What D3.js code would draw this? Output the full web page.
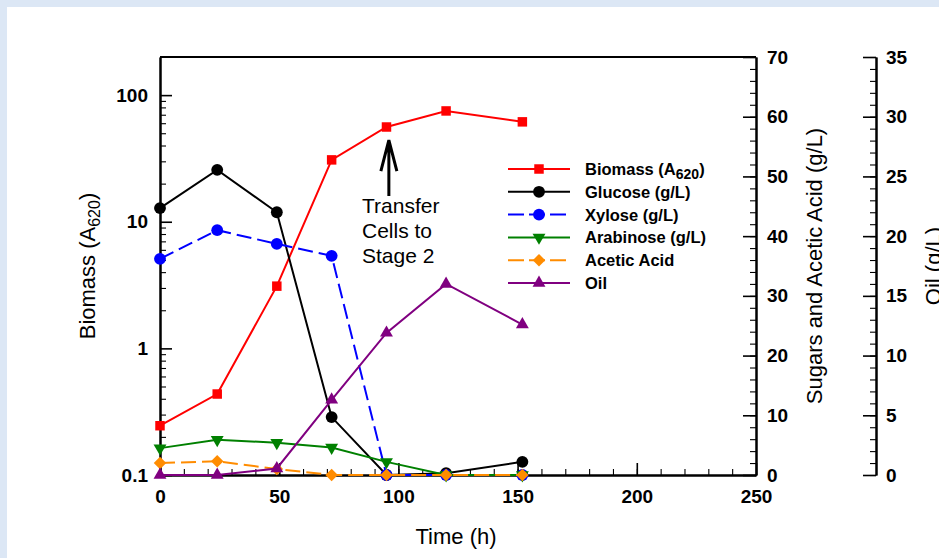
<!DOCTYPE html>
<html>
<head>
<meta charset="utf-8">
<script src="https://cdn.jsdelivr.net/npm/d3@7"></script>
<style>
    body { margin: 0; background: #dce7f5; }
    svg { position: absolute; left: 0; top: 0; }
    text { font-family: "Liberation Sans", Arial, sans-serif; }
    .tick text { font-weight: bold; font-size: 19px; }
</style>
</head>
<body>
<script>
// values
const hours = [0, 24, 49, 72, 95, 120, 152];
const biomass = [0.245, 0.436, 3.1, 30.8, 56, 75, 61.5];     // A620, log axis
const glucose = [44.7, 51.1, 44.0, 9.7, 0, 0.3, 2.2];        // g/L, sugars axis
const xylose = [36.2, 41.0, 38.7, 36.7, 0, 0, 0];
const arabinose = [4.5, 5.9, 5.4, 4.6, 2.2, 0, 0];
const aceticAcid = [2.0, 2.3, 1.0, 0, 0, 0, 0];
const oil = [0, 0, 0.55, 6.3, 11.9, 16.0, 12.6];            // g/L, oil axis

const timeTicks = [0, 50, 100, 150, 200, 250];
const biomassTicks = [0.1, 1, 10, 100];
const sugarTicks = [0, 10, 20, 30, 40, 50, 60, 70];
const oilTicks = [0, 5, 10, 15, 20, 25, 30, 35];

const W = 939, H = 558;

const x = d3.scaleLinear().domain([0, 250]).range([160, 756]);
const yBio = d3.scaleLog().domain([0.1, 200]).range([475, 57]);
const ySug = d3.scaleLinear().domain([0, 70]).range([475, 57]);
const yOil = d3.scaleLinear().domain([0, 35]).range([475, 57]);

const series = [
    {name: "Biomass (A", sub: "620", sub2: ")", vals: biomass, y: yBio, color: "#ff0000", dash: null, sym: d3.symbolSquare, size: 90, rot: 0},
    {name: "Glucose (g/L)", vals: glucose, y: ySug, color: "#000000", dash: null, sym: d3.symbolCircle, size: 110, rot: 0},
    {name: "Xylose (g/L)", vals: xylose, y: ySug, color: "#0000ff", dash: "15,6", sym: d3.symbolCircle, size: 110, rot: 0},
    {name: "Arabinose (g/L)", vals: arabinose, y: ySug, color: "#008000", dash: null, sym: d3.symbolTriangle, size: 72, rot: 180},
    {name: "Acetic Acid", vals: aceticAcid, y: ySug, color: "#ff8c00", dash: "15,6", sym: d3.symbolSquare, size: 78, rot: 45},
    {name: "Oil", vals: oil, y: yOil, color: "#800080", dash: null, sym: d3.symbolTriangle, size: 72, rot: 0},
];

const svg = d3.select("body").append("svg").attr("width", W).attr("height", H);
svg.append("rect").attr("x", 7).attr("y", 7).attr("width", W - 7).attr("height", H - 7).attr("fill", "#fff");

function styleAxis(g, major) {
    g.select(".domain").attr("stroke-width", 2);
    g.selectAll(".tick line").attr("stroke-width", major ? 1.6 : 1.1);
}

// minor ticks first, then major ones with labels
let minorBio = [];
[0.1, 1, 10, 100].forEach(d => { for (let k = 2; k <= 9; k++) if (d * k < 200) minorBio.push(d * k); });
svg.append("g").attr("transform", "translate(160,0)")
    .call(d3.axisLeft(yBio).tickValues(minorBio).tickSize(-6).tickSizeOuter(0).tickFormat(""))
    .call(g => styleAxis(g, false));
svg.append("g").attr("transform", "translate(160,0)")
    .call(d3.axisLeft(yBio).tickValues(biomassTicks).tickSize(-12).tickSizeOuter(0).tickPadding(12).tickFormat(d => d < 1 ? "0.1" : d3.format("d")(d)))
    .call(g => styleAxis(g, true));

svg.append("g").attr("transform", "translate(0,475)")
    .call(d3.axisBottom(x).tickValues(d3.range(0, 251, 10)).tickSize(-6).tickSizeOuter(0).tickFormat(""))
    .call(g => styleAxis(g, false));
svg.append("g").attr("transform", "translate(0,475)")
    .call(d3.axisBottom(x).tickValues(timeTicks).tickSize(-12).tickSizeOuter(0).tickPadding(15))
    .call(g => styleAxis(g, true));

svg.append("g").attr("transform", "translate(756,0)")
    .call(d3.axisRight(ySug).tickValues(d3.range(0, 71, 2)).tickSize(-6).tickSizeOuter(0).tickFormat(""))
    .call(g => styleAxis(g, false));
svg.append("g").attr("transform", "translate(756,0)")
    .call(d3.axisRight(ySug).tickValues(sugarTicks).tickSize(-13).tickSizeOuter(0).tickPadding(11))
    .call(g => styleAxis(g, true));

svg.append("g").attr("transform", "translate(876,0)")
    .call(d3.axisRight(yOil).tickValues(d3.range(0, 36, 1)).tickSize(-6).tickSizeOuter(0).tickFormat(""))
    .call(g => styleAxis(g, false));
svg.append("g").attr("transform", "translate(876,0)")
    .call(d3.axisRight(yOil).tickValues(oilTicks).tickSize(-13).tickSizeOuter(0).tickPadding(10))
    .call(g => styleAxis(g, true));

// top of frame
svg.append("line").attr("x1", x(0)).attr("x2", x(250)).attr("y1", yBio(200)).attr("y2", yBio(200))
    .attr("stroke", "#000").attr("stroke-width", 2);

// axis titles
const bioTitle = svg.append("text").attr("transform", "translate(95,266) rotate(-90)")
    .attr("text-anchor", "middle").attr("font-size", 22);
bioTitle.append("tspan").text("Biomass (A");
bioTitle.append("tspan").attr("font-size", 16).attr("dy", 5).text("620");
bioTitle.append("tspan").attr("dy", -5).text(")");

svg.append("text").attr("transform", "translate(822,266) rotate(-90)")
    .attr("text-anchor", "middle").attr("font-size", 22).text("Sugars and Acetic Acid (g/L)");
// the reference crops this title at the right edge
svg.append("text").attr("transform", "translate(941,266) rotate(-90)")
    .attr("text-anchor", "middle").attr("font-size", 22).text("Oil (g/L)");
svg.append("text").attr("x", 456).attr("y", 544)
    .attr("text-anchor", "middle").attr("font-size", 22).text("Time (h)");

// lines and markers
series.forEach(s => {
    const line = d3.line().x((d, i) => x(hours[i])).y(d => s.y(d));
    svg.append("path").datum(s.vals).attr("d", line)
        .attr("fill", "none").attr("stroke", s.color).attr("stroke-width", 2)
        .attr("stroke-dasharray", s.dash);
    svg.append("g").selectAll("path").data(s.vals).join("path")
        .attr("d", d3.symbol(s.sym, s.size))
        .attr("transform", (d, i) => "translate(" + x(hours[i]) + "," + s.y(d) + ") rotate(" + s.rot + ")")
        .attr("fill", s.color);
});

// transfer arrow
const ax = x(96), tipY = yBio(56) + 13;
svg.append("path")
    .attr("d", "M" + ax + "," + (tipY + 56) + "V" + tipY + "M" + (ax - 8) + "," + (tipY + 31) + "L" + ax + "," + tipY + "L" + (ax + 8) + "," + (tipY + 31))
    .attr("fill", "none").attr("stroke", "#000").attr("stroke-width", 3);
svg.append("text").attr("x", 362).attr("y", 213).attr("font-size", 21)
    .selectAll("tspan").data(["Transfer", "Cells to", "Stage 2"]).join("tspan")
    .attr("x", 362).attr("dy", (d, i) => i ? 25 : 0).text(d => d);

// legend
const leg = svg.append("g").attr("transform", "translate(508,169)");
series.forEach((s, i) => {
    const row = leg.append("g").attr("transform", "translate(0," + (i * 22.8) + ")");
    row.append("line").attr("x1", 0).attr("x2", 62).attr("stroke", s.color).attr("stroke-width", 2)
        .attr("stroke-dasharray", s.dash ? "16,5" : null);
    row.append("path").attr("d", d3.symbol(s.sym, s.size)).attr("transform", "translate(31,0) rotate(" + s.rot + ")")
        .attr("fill", s.color);
    const t = row.append("text").attr("x", 77).attr("y", 6).attr("font-size", 16.5).attr("font-weight", "bold");
    t.append("tspan").text(s.name);
    if (s.sub) {
        t.append("tspan").attr("font-size", 14).attr("dy", 4).text(s.sub);
        t.append("tspan").attr("dy", -4).text(s.sub2);
    }
});
</script>
</body>
</html>
